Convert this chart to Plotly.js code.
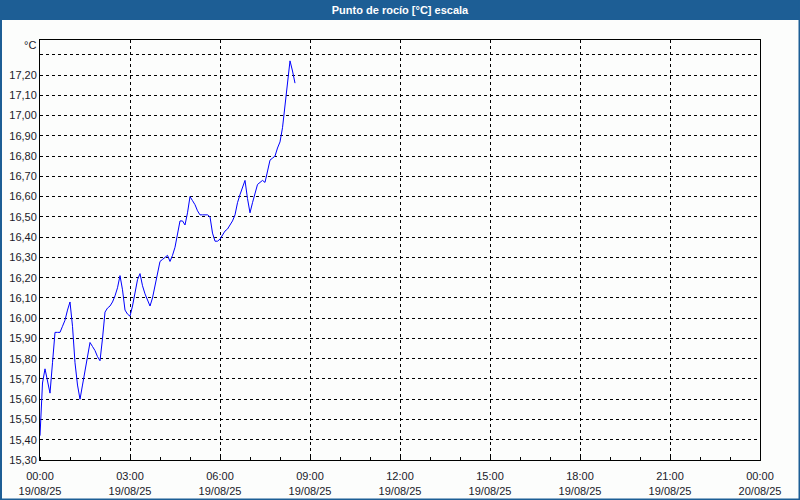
<!DOCTYPE html>
<html>
<head>
<meta charset="utf-8">
<script src="https://cdn.plot.ly/plotly-3.0.1.min.js"></script>
<style>
  html, body { margin: 0; padding: 0; background: #fcfdfc; }
  #chart { width: 800px; height: 500px; }
</style>
</head>
<body>
<div id="chart"></div>
<script>
// Sample times (minutes after 19/08/25 00:00), every 5 minutes
const minutes = [
  0,5,10,15,20,25,30,35,40,45,50,55,60,65,70,75,80,85,90,95,
  100,105,110,115,120,125,130,135,140,145,150,155,160,165,170,175,180,185,190,195,
  200,205,210,215,220,225,230,235,240,245,250,255,260,265,270,275,280,285,290,295,
  300,305,310,315,320,325,330,335,340,345,350,355,360,365,370,375,380,385,390,395,
  400,405,410,415,420,425,430,435,440,445,450,455,460,465,470,475,480,485,490,495,
  500,505,510
];
// Dew point [°C]
const dewPoint = [
  15.42,15.68,15.75,15.69,15.63,15.78,15.93,15.93,15.93,15.96,15.99,16.04,16.08,15.96,15.78,15.67,15.60,15.67,15.74,15.81,
  15.88,15.86,15.84,15.81,15.79,15.90,16.03,16.05,16.06,16.08,16.11,16.15,16.21,16.14,16.04,16.02,16.01,16.06,16.13,16.19,
  16.22,16.16,16.12,16.09,16.06,16.10,16.16,16.22,16.28,16.29,16.30,16.31,16.28,16.31,16.35,16.42,16.48,16.48,16.46,16.52,
  16.60,16.58,16.56,16.53,16.51,16.51,16.51,16.51,16.50,16.42,16.38,16.38,16.39,16.41,16.43,16.44,16.46,16.48,16.51,16.57,
  16.61,16.65,16.68,16.59,16.52,16.57,16.62,16.66,16.67,16.68,16.67,16.73,16.78,16.79,16.80,16.84,16.87,16.94,17.04,17.17,
  17.27,17.22,17.16
];
const xTickVals = [
  '2025-08-19 00:00','2025-08-19 03:00','2025-08-19 06:00','2025-08-19 09:00','2025-08-19 12:00',
  '2025-08-19 15:00','2025-08-19 18:00','2025-08-19 21:00','2025-08-20 00:00'
];
const xTickText = [
  '00:00<br>19/08/25','03:00<br>19/08/25','06:00<br>19/08/25','09:00<br>19/08/25','12:00<br>19/08/25',
  '15:00<br>19/08/25','18:00<br>19/08/25','21:00<br>19/08/25','00:00<br>20/08/25'
];
// Y gridlines 15.30 .. 17.30; the top one (17.30) carries no label
const yTickVals = [15.3,15.4,15.5,15.6,15.7,15.8,15.9,16.0,16.1,16.2,16.3,16.4,16.5,16.6,16.7,16.8,16.9,17.0,17.1,17.2,17.3];
const yTickText = ['15,30','15,40','15,50','15,60','15,70','15,80','15,90','16,00','16,10','16,20','16,30',
  '16,40','16,50','16,60','16,70','16,80','16,90','17,00','17,10','17,20',''];
const titleText = 'Punto de rocío [°C] escala';
const unitLabel = '°C';

function pad(n) { return (n < 10 ? '0' : '') + n; }
const times = minutes.map(m => '2025-08-19 ' + pad(Math.floor(m / 60)) + ':' + pad(m % 60));

const border = '#1d5e95';
const L = 40, R = 40, T = 40, B = 40, W = 800, H = 500;
const pw = W - L - R, ph = H - T - B;
const px = v => (v - L) / pw;
const py = v => (H - B - v) / ph;

const layout = {
  width: W, height: H,
  margin: { l: L, r: R, t: T, b: B, pad: 0 },
  paper_bgcolor: '#fcfdfc',
  plot_bgcolor: '#fcfdfc',
  separators: ',.',
  showlegend: false,
  font: { family: 'Liberation Sans, Arial, sans-serif', size: 11, color: '#1a1a2a' },
  title: {
    text: '<b>' + titleText + '</b>',
    font: { family: 'Liberation Sans, Arial, sans-serif', size: 11, color: '#ffffff' },
    x: 0.5, xanchor: 'center', xref: 'paper',
    y: 1 - 10 / H, yanchor: 'middle', yref: 'container'
  },
  xaxis: {
    type: 'date',
    range: ['2025-08-19 00:00', '2025-08-20 00:00'],
    tickmode: 'array', tickvals: xTickVals, ticktext: xTickText,
    showgrid: true, gridcolor: '#000000', gridwidth: 1, griddash: '3px,3px',
    showline: true, linecolor: '#000000', linewidth: 1, mirror: true,
    ticks: '', zeroline: false, ticklabelstandoff: 6,
    minor: { dtick: 3600000, ticks: 'inside', ticklen: 3, tickcolor: '#000000', showgrid: false },
    tickfont: { size: 11, color: '#1a1a2a' }
  },
  yaxis: {
    range: [15.30, 17.373],
    tickmode: 'array', tickvals: yTickVals, ticktext: yTickText,
    showgrid: true, gridcolor: '#000000', gridwidth: 1, griddash: '3px,3px',
    showline: true, linecolor: '#000000', linewidth: 1, mirror: true,
    ticks: '', zeroline: false,
    tickfont: { size: 11, color: '#1a1a2a' }
  },
  shapes: [
    { type: 'rect', xref: 'paper', yref: 'paper', layer: 'above',
      x0: px(0), x1: px(800), y0: py(20), y1: py(0), fillcolor: border, line: { width: 0 } },
    { type: 'rect', xref: 'paper', yref: 'paper', layer: 'above',
      x0: px(0), x1: px(2), y0: py(500), y1: py(0), fillcolor: border, line: { width: 0 } },
    { type: 'rect', xref: 'paper', yref: 'paper', layer: 'above',
      x0: px(798.5), x1: px(800), y0: py(500), y1: py(0), fillcolor: border, line: { width: 0 } },
    { type: 'rect', xref: 'paper', yref: 'paper', layer: 'above',
      x0: px(0), x1: px(800), y0: py(500), y1: py(498.5), fillcolor: border, line: { width: 0 } }
  ],
  annotations: [
    { text: unitLabel, xref: 'paper', yref: 'paper', x: px(38), y: py(45),
      xanchor: 'right', yanchor: 'middle', showarrow: false,
      font: { size: 11, color: '#1a1a2a' } }
  ]
};

const trace = {
  type: 'scatter', mode: 'lines',
  x: times, y: dewPoint,
  line: { color: '#0000ff', width: 1 },
  hoverinfo: 'skip'
};

Plotly.newPlot('chart', [trace], layout, { staticPlot: true, displayModeBar: false });
</script>
</body>
</html>
